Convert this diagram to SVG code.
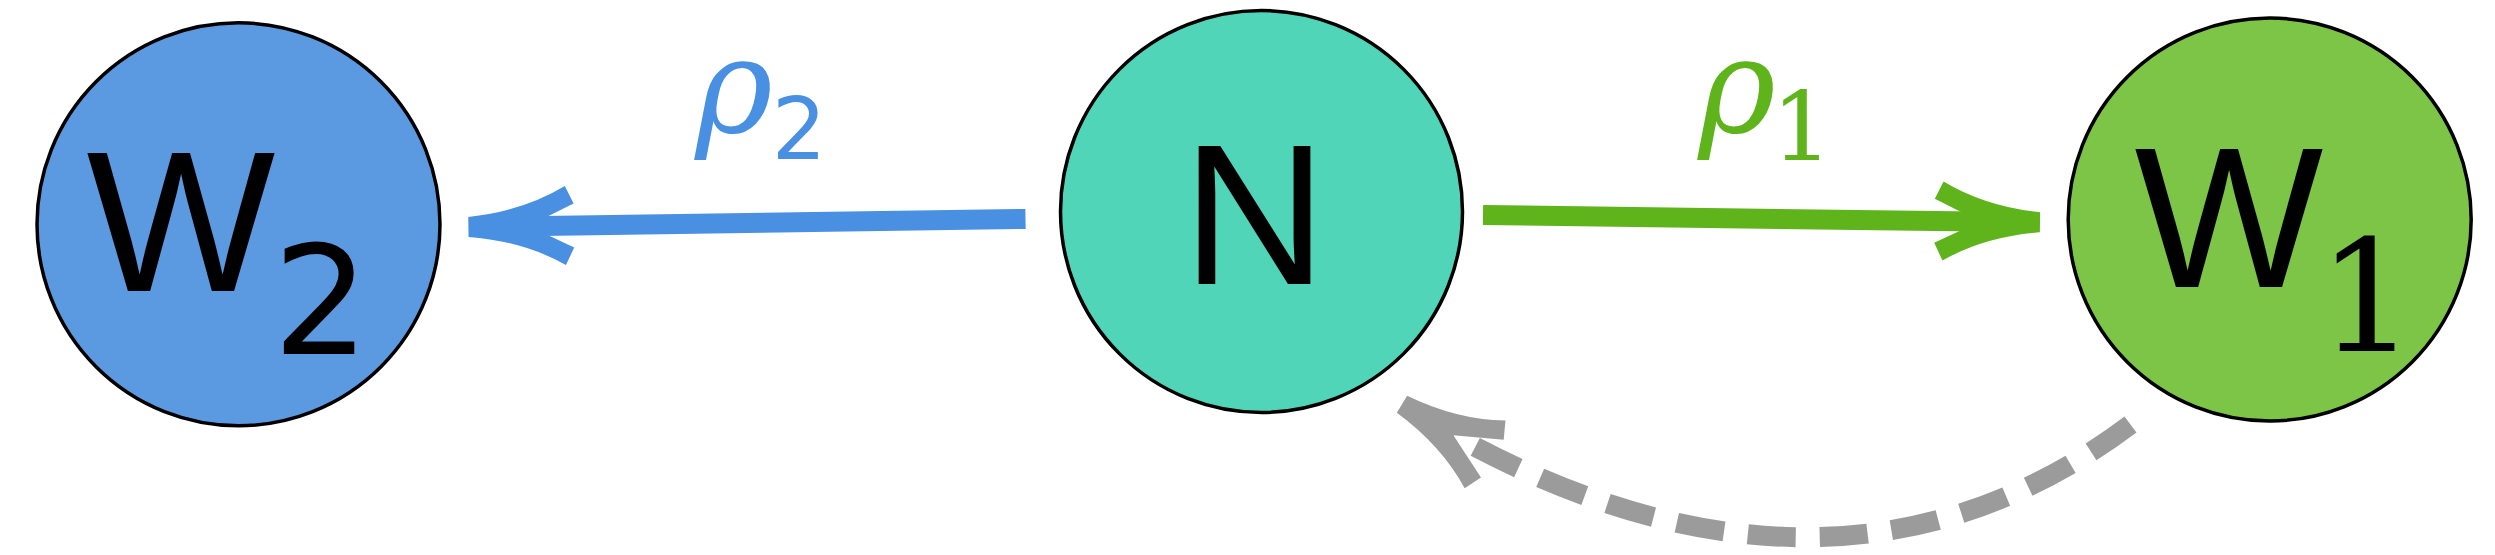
<svg xmlns="http://www.w3.org/2000/svg" width="2495" height="555" viewBox="0 0 2495 555">
<defs>
<style>
.node{stroke:#000;stroke-width:3.5}
.big{font-family:"Liberation Sans",Arial,sans-serif;font-size:200px;fill:#000;text-anchor:middle}
.sub{font-family:"DejaVu Sans",sans-serif;font-size:152px;fill:#000;text-anchor:middle}
.subs{font-family:"DejaVu Serif",serif;font-size:155px;fill:#000;text-anchor:middle}
.rho{font-family:"DejaVu Serif",serif;font-style:italic;font-size:132px;text-anchor:middle}
.lsub{font-family:"DejaVu Sans",sans-serif;font-size:86px;text-anchor:middle}
.lsubs{font-family:"DejaVu Serif",serif;font-size:96px;text-anchor:middle}
.shaft{fill:none;stroke-width:20;stroke-linecap:butt}
</style>
<path id="head" d="M0,-10 Q-55,-15 -97,-39.5 L-105.5,-22 L-60,0 L-105.5,22 L-97,39.5 Q-55,15 0,10 Z"/>
</defs>
<rect width="2495" height="555" fill="#fff"/>
<g id="connectors">
<g id="edge-N-W2">
<line class="shaft" x1="1025.5" y1="218.9" x2="472" y2="226.9" stroke="#4A90E2"/>
<use href="#head" fill="#4A90E2" transform="translate(468.4,226.9) rotate(179.18)"/>
<text class="rho" x="734" y="132" fill="#4A90E2">ρ</text>
<text class="lsub" x="799" y="159" fill="#4A90E2">2</text>
</g>
<g id="edge-N-W1">
<line class="shaft" x1="1483" y1="215" x2="2036" y2="222.3" stroke="#5EB41A"/>
<use href="#head" fill="#5EB41A" transform="translate(2040,222.3) rotate(0.78)"/>
<text class="rho" x="1737" y="132" fill="#5EB41A">ρ</text>
<text class="lsubs" x="1802" y="160" fill="#5EB41A">1</text>
</g>
<g id="edge-W1-N">
<path class="shaft" d="M2130.5,424.5 C1914,586.9 1678,559 1453.4,435.2" stroke="#9B9B9B" stroke-dasharray="48 24"/>
<use href="#head" fill="#9B9B9B" transform="translate(1402,404.2) rotate(211.1)"/>
</g>
</g>
<g id="node-W2">
<circle class="node" cx="238.5" cy="224.3" r="201.5" fill="#5B9AE1"/>
<text class="big" x="181" y="291">W</text>
<text class="sub" x="321" y="354">2</text>
</g>
<g id="node-N">
<circle class="node" cx="1261.5" cy="211.5" r="201" fill="#50D5B8"/>
<text class="big" x="1254.5" y="284">N</text>
</g>
<g id="node-W1">
<circle class="node" cx="2269.7" cy="219.5" r="201.5" fill="#7DC546"/>
<text class="big" x="2229" y="287">W</text>
<text class="subs" x="2367" y="351">1</text>
</g>
</svg>
